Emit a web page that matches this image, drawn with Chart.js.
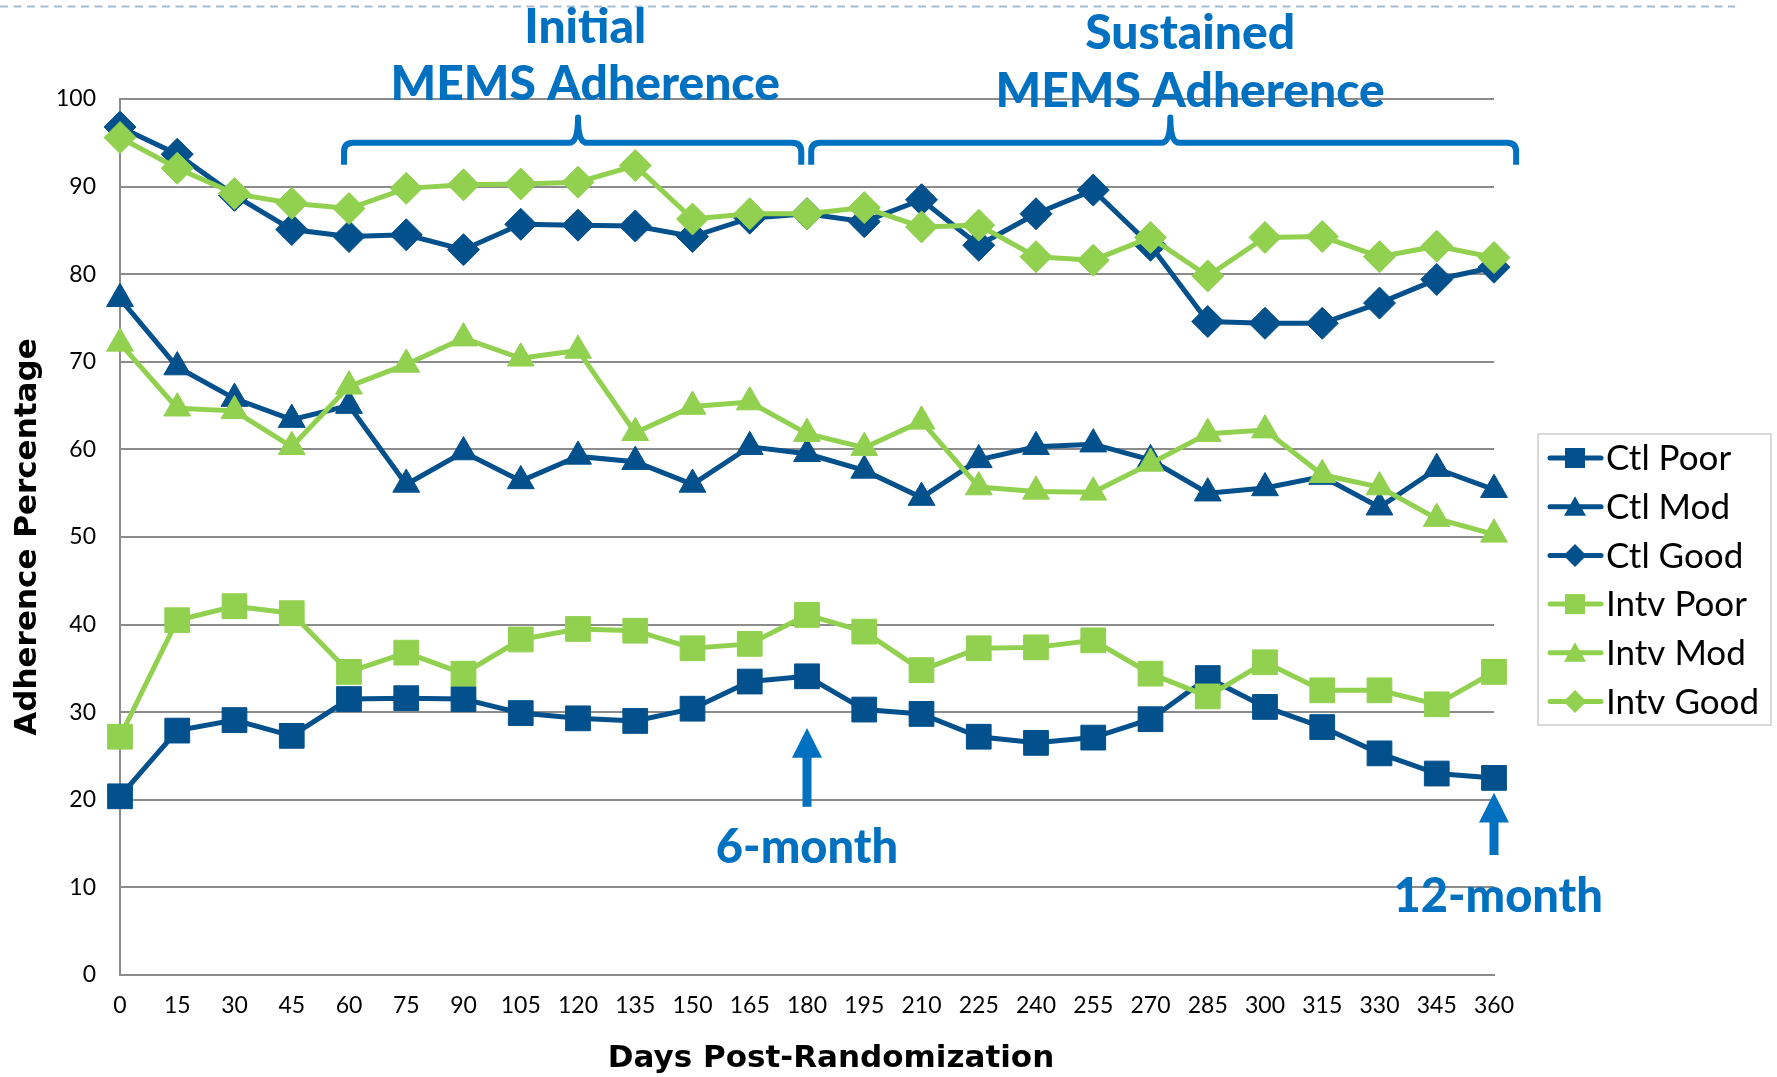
<!DOCTYPE html>
<html>
<head>
<meta charset="utf-8">
<script src="https://cdn.jsdelivr.net/npm/chart.js@4.4.1/dist/chart.umd.min.js"></script>
<style>
  html, body { margin: 0; padding: 0; background: #ffffff; }
  #wrap { width: 1777px; height: 1077px; position: relative; }
</style>
</head>
<body>
<div id="wrap"><canvas id="chart" width="1777" height="1077"></canvas></div>
<script>
// Days post-randomization (x categories / tick labels)
const days = ['0','15','30','45','60','75','90','105','120','135','150','165','180',
              '195','210','225','240','255','270','285','300','315','330','345','360'];
// Y-axis tick values
const yTickValues = [0, 10, 20, 30, 40, 50, 60, 70, 80, 90, 100];

// Adherence percentage by group
const ctlPoor  = [20.4, 27.9, 29.1, 27.3, 31.5, 31.6, 31.5, 29.9, 29.3, 29.0, 30.4, 33.5, 34.1,
                  30.3, 29.8, 27.2, 26.5, 27.1, 29.2, 33.9, 30.6, 28.3, 25.3, 23.0, 22.5];
const ctlMod   = [77.2, 69.4, 65.8, 63.4, 65.0, 56.0, 59.7, 56.4, 59.2, 58.6, 56.0, 60.3, 59.5,
                  57.6, 54.5, 58.8, 60.3, 60.6, 58.8, 55.0, 55.6, 56.9, 53.4, 57.8, 55.4];
const ctlGood  = [96.8, 93.7, 89.0, 85.1, 84.3, 84.5, 82.8, 85.7, 85.6, 85.5, 84.3, 86.4, 86.9,
                  86.0, 88.5, 83.3, 86.9, 89.6, 83.3, 74.6, 74.4, 74.4, 76.7, 79.4, 80.8];
const intvPoor = [27.2, 40.5, 42.1, 41.3, 34.6, 36.8, 34.4, 38.3, 39.5, 39.3, 37.3, 37.8, 41.1,
                  39.2, 34.8, 37.3, 37.4, 38.2, 34.4, 31.8, 35.7, 32.5, 32.5, 30.9, 34.6];
const intvMod  = [72.1, 64.7, 64.4, 60.3, 67.2, 69.7, 72.7, 70.4, 71.3, 61.9, 64.9, 65.4, 61.8,
                  60.2, 63.2, 55.7, 55.2, 55.1, 58.4, 61.8, 62.2, 57.1, 55.7, 52.1, 50.3];
const intvGood = [95.6, 92.1, 89.2, 88.1, 87.5, 89.8, 90.2, 90.3, 90.5, 92.4, 86.3, 86.9, 86.9,
                  87.6, 85.4, 85.6, 82.0, 81.6, 84.2, 79.8, 84.2, 84.3, 82.0, 83.2, 81.9];

const seriesNames = ['Ctl Poor', 'Ctl Mod', 'Ctl Good', 'Intv Poor', 'Intv Mod', 'Intv Good'];
const xTitle = 'Days Post-Randomization';
const yTitle = 'Adherence Percentage';

const CTL = '#02508c';
const INTV = '#92d050';
const NOTE = '#0070c0';
const GRID = '#8c8c8c';
const TITLE_FONT = 'bold 31px "DejaVu Sans"';
const NOTE_FONT = '900 48px Lato';
const MILESTONE_FONT = '900 47px Lato';

// Callout text and brackets, placed in data units (day, percent)
const phaseNotes = [
  { lines: ['Initial', 'MEMS Adherence'], day: 121.9, y: [106.4, 99.9],
    from: 58.7, to: 178.5, tip: 120, bar: 95.0, end: 92.5, peak: 97.9 },
  { lines: ['Sustained', 'MEMS Adherence'], day: 280.4, y: [105.7, 99.1],
    from: 181.1, to: 365.8, tip: 275.2, bar: 95.0, end: 92.5, peak: 97.9 }
];
const milestones = [
  { label: '6-month',  day: 180, tipY: 28.2, headY: 24.8, tailY: 19.2, textDay: 180,   textY: 12.8 },
  { label: '12-month', day: 360, tipY: 20.8, headY: 17.4, tailY: 13.7, textDay: 361.1, textY: 7.2 }
];

function makeSet(label, data, color, style, radius, order) {
  return {
    label, data,
    borderColor: color,
    backgroundColor: color,
    borderWidth: 5,
    pointStyle: style,
    pointRadius: radius,
    pointHoverRadius: radius,
    pointBackgroundColor: color,
    pointBorderColor: color,
    pointBorderWidth: 1,
    tension: 0,
    order
  };
}

const datasets = [
  makeSet(seriesNames[0], ctlPoor,  CTL,  'rect',     17.5, 1),
  makeSet(seriesNames[1], ctlMod,   CTL,  'triangle', 15.5, 1),
  makeSet(seriesNames[2], ctlGood,  CTL,  'rectRot',  16,   1),
  makeSet(seriesNames[3], intvPoor, INTV, 'rect',     17.5, 0),
  makeSet(seriesNames[4], intvMod,  INTV, 'triangle', 15.5, 0),
  makeSet(seriesNames[5], intvGood, INTV, 'rectRot',  16,   0)
];

function drawMarker(ctx, style, x, y, s) {
  ctx.beginPath();
  if (style === 'rect') {
    ctx.rect(x - s, y - s, 2 * s, 2 * s);
  } else if (style === 'triangle') {
    ctx.moveTo(x, y - s * 1.05);
    ctx.lineTo(x + s * 1.1, y + s * 0.9);
    ctx.lineTo(x - s * 1.1, y + s * 0.9);
    ctx.closePath();
  } else {
    ctx.moveTo(x, y - s * 1.15);
    ctx.lineTo(x + s * 1.15, y);
    ctx.lineTo(x, y + s * 1.15);
    ctx.lineTo(x - s * 1.15, y);
    ctx.closePath();
  }
  ctx.fill();
}

const decorations = {
  id: 'decorations',
  beforeDraw(chart) {
    const ctx = chart.ctx;
    ctx.save();
    ctx.fillStyle = '#ffffff';
    ctx.fillRect(0, 0, chart.width, chart.height);
    // dashed rule across the top
    ctx.strokeStyle = '#a3bdd2';
    ctx.lineWidth = 2;
    ctx.setLineDash([8, 5.5]);
    ctx.beginPath();
    ctx.moveTo(0, 6.5);
    ctx.lineTo(1735, 6.5);
    ctx.stroke();
    ctx.restore();
  },
  afterDraw(chart) {
    const ctx = chart.ctx;
    const xs = chart.scales.x, ys = chart.scales.y;
    const dx = d => xs.left + (d / 360) * (xs.right - xs.left);
    const dy = v => ys.getPixelForValue(v);

    // axis titles
    ctx.save();
    ctx.fillStyle = '#000000';
    ctx.font = TITLE_FONT;
    ctx.textAlign = 'center';
    ctx.textBaseline = 'middle';
    ctx.fillText(xTitle, dx(186.3), 1059);
    ctx.translate(28, (ys.top + ys.bottom) / 2);
    ctx.rotate(-Math.PI / 2);
    ctx.fillText(yTitle, 0, 0);
    ctx.restore();

    ctx.save();
    ctx.strokeStyle = NOTE;
    ctx.fillStyle = NOTE;
    ctx.lineCap = 'butt';
    ctx.lineJoin = 'round';

    // phase headings with curly brackets
    phaseNotes.forEach(n => {
      ctx.font = NOTE_FONT;
      ctx.textAlign = 'center';
      ctx.textBaseline = 'alphabetic';
      n.lines.forEach((t, i) => ctx.fillText(t, dx(n.day), dy(n.y[i])));

      const x1 = dx(n.from), x2 = dx(n.to), xm = dx(n.tip);
      const y = dy(n.bar), yEnd = dy(n.end), yPeak = dy(n.peak);
      const r = 9;
      ctx.lineWidth = 6;
      ctx.beginPath();
      ctx.moveTo(x1, yEnd);
      ctx.lineTo(x1, y + r);
      ctx.quadraticCurveTo(x1, y, x1 + r, y);
      ctx.lineTo(xm - 9, y);
      ctx.quadraticCurveTo(xm, y, xm, yPeak);
      ctx.quadraticCurveTo(xm, y, xm + 9, y);
      ctx.lineTo(x2 - r, y);
      ctx.quadraticCurveTo(x2, y, x2, y + r);
      ctx.lineTo(x2, yEnd);
      ctx.stroke();
    });

    // milestone arrows
    milestones.forEach(m => {
      const x = dx(m.day);
      const tip = dy(m.tipY), head = dy(m.headY), tail = dy(m.tailY);
      ctx.fillRect(x - 4.5, head - 1, 9, tail - head + 1);
      ctx.beginPath();
      ctx.moveTo(x, tip);
      ctx.lineTo(x + 15, head);
      ctx.lineTo(x - 15, head);
      ctx.closePath();
      ctx.fill();
      ctx.font = MILESTONE_FONT;
      ctx.textAlign = 'center';
      ctx.textBaseline = 'alphabetic';
      ctx.fillText(m.label, dx(m.textDay), dy(m.textY));
    });
    ctx.restore();

    // legend
    ctx.save();
    const box = { x: 1538, y: 434, w: 233, h: 291 };
    ctx.strokeStyle = '#d9d9d9';
    ctx.lineWidth = 2;
    ctx.strokeRect(box.x, box.y, box.w, box.h);
    chart.data.datasets.forEach((ds, i) => {
      const cy = box.y + 24 + i * 48.7;
      ctx.strokeStyle = ds.borderColor;
      ctx.fillStyle = ds.borderColor;
      ctx.lineWidth = 5;
      ctx.lineCap = 'round';
      ctx.beginPath();
      ctx.moveTo(1550, cy);
      ctx.lineTo(1601, cy);
      ctx.stroke();
      drawMarker(ctx, ds.pointStyle, 1575, cy, 10);
      ctx.fillStyle = '#000000';
      ctx.font = '35px Lato';
      ctx.textAlign = 'left';
      ctx.textBaseline = 'middle';
      ctx.fillText(ds.label, 1606, cy + 1);
    });
    ctx.restore();
  }
};

new Chart(document.getElementById('chart'), {
  type: 'line',
  data: { labels: days, datasets },
  options: {
    responsive: false,
    animation: false,
    events: [],
    layout: { padding: { top: 99, right: 283, bottom: 0, left: 0 } },
    plugins: {
      legend: { display: false },
      tooltip: { enabled: false }
    },
    scales: {
      x: {
        type: 'category',
        offset: false,
        grid: { display: false, drawTicks: false },
        border: { display: true, color: GRID, width: 2 },
        ticks: {
          color: '#000000',
          font: { family: 'Lato', size: 23 },
          padding: 17,
          maxRotation: 0,
          autoSkip: false
        },
        title: { display: false, text: xTitle },
        afterFit(scale) { scale.height = 102; }
      },
      y: {
        min: 0,
        max: 100,
        afterBuildTicks(scale) { scale.ticks = yTickValues.map(v => ({ value: v })); },
        grid: { color: GRID, lineWidth: 2, drawTicks: false },
        border: { display: true, color: GRID, width: 2 },
        ticks: {
          color: '#000000',
          font: { family: 'Lato', size: 23 },
          padding: 24
        },
        title: { display: false, text: yTitle },
        afterFit(scale) { scale.width = 120; }
      }
    }
  },
  plugins: [decorations]
});
</script>
</body>
</html>
